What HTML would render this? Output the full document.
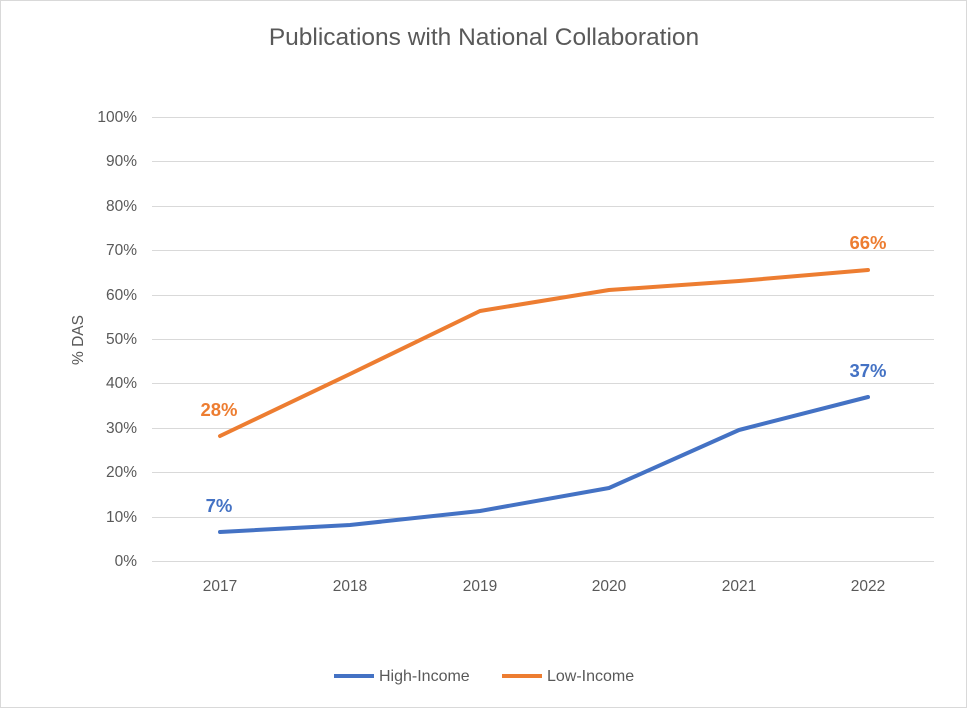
<!DOCTYPE html>
<html><head><style>
body{margin:0;background:#fff;}
svg{display:block;font-family:"Liberation Sans",Arial,sans-serif;}
</style></head><body>
<svg width="967" height="708" viewBox="0 0 967 708">
<rect x="0.5" y="0.5" width="966" height="707" fill="#fff" stroke="#d9d9d9"/>
<text x="484" y="45" text-anchor="middle" font-size="24.5" fill="#595959">Publications with National Collaboration</text>
<g stroke="#d9d9d9" stroke-width="1">
<line x1="152" x2="934" y1="117.5" y2="117.5"/>
<line x1="152" x2="934" y1="161.5" y2="161.5"/>
<line x1="152" x2="934" y1="206.5" y2="206.5"/>
<line x1="152" x2="934" y1="250.5" y2="250.5"/>
<line x1="152" x2="934" y1="295.5" y2="295.5"/>
<line x1="152" x2="934" y1="339.5" y2="339.5"/>
<line x1="152" x2="934" y1="383.5" y2="383.5"/>
<line x1="152" x2="934" y1="428.5" y2="428.5"/>
<line x1="152" x2="934" y1="472.5" y2="472.5"/>
<line x1="152" x2="934" y1="517.5" y2="517.5"/>
<line x1="152" x2="934" y1="561.5" y2="561.5"/>
</g>
<g font-size="15.5" fill="#595959" text-anchor="end">
<text x="137" y="122">100%</text><text x="137" y="166">90%</text><text x="137" y="211">80%</text>
<text x="137" y="255">70%</text><text x="137" y="300">60%</text><text x="137" y="344">50%</text>
<text x="137" y="388">40%</text><text x="137" y="433">30%</text><text x="137" y="477">20%</text>
<text x="137" y="522">10%</text><text x="137" y="566">0%</text>
</g>
<g font-size="15.5" fill="#595959" text-anchor="middle">
<text x="220" y="591">2017</text><text x="350" y="591">2018</text><text x="480" y="591">2019</text>
<text x="609" y="591">2020</text><text x="739" y="591">2021</text><text x="868" y="591">2022</text>
</g>
<text transform="translate(83,340) rotate(-90)" text-anchor="middle" font-size="15.5" fill="#595959">% DAS</text>
<polyline fill="none" stroke="#ed7d31" stroke-width="4" stroke-linejoin="round" stroke-linecap="round" points="220,436 350,374 480,311 609,290 739,281 868,270"/>
<polyline fill="none" stroke="#4472c4" stroke-width="4" stroke-linejoin="round" stroke-linecap="round" points="220,532 350,525 480,511 609,488 739,430 868,397"/>
<g font-size="18.5" font-weight="bold" text-anchor="middle">
<text x="219" y="416" fill="#ed7d31">28%</text>
<text x="868" y="249" fill="#ed7d31">66%</text>
<text x="219" y="512" fill="#4472c4">7%</text>
<text x="868" y="377" fill="#4472c4">37%</text>
</g>
<line x1="334" x2="374" y1="676" y2="676" stroke="#4472c4" stroke-width="4"/>
<text x="379" y="681" font-size="16" fill="#595959">High-Income</text>
<line x1="502" x2="542" y1="676" y2="676" stroke="#ed7d31" stroke-width="4"/>
<text x="547" y="681" font-size="16" fill="#595959">Low-Income</text>
</svg>
</body></html>
